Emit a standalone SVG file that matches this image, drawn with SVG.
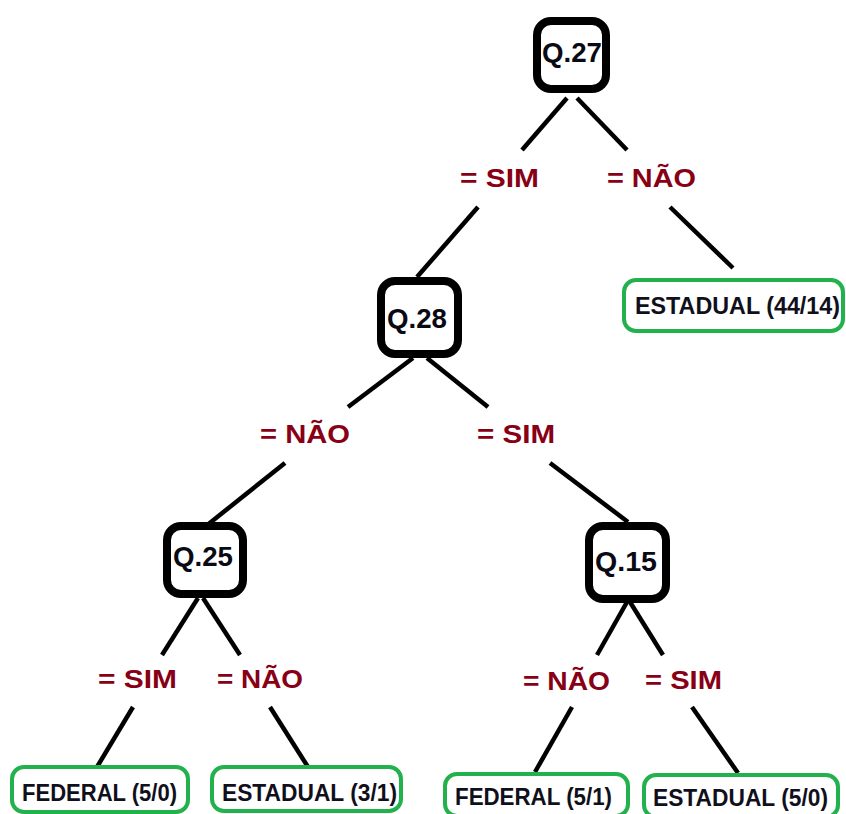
<svg xmlns="http://www.w3.org/2000/svg" width="846" height="814" viewBox="0 0 846 814">
<style>
.q rect{fill:#fff;stroke:#000;stroke-width:8}
.q text{font-family:"Liberation Sans",Arial,sans-serif;font-weight:bold;font-size:27px;fill:#0a0a14;text-anchor:middle}
.leaf rect{fill:#fff;stroke:#22b14c;stroke-width:4}
.leaf text{font-family:"Liberation Sans",Arial,sans-serif;font-weight:bold;font-size:24px;fill:#10101c}
.lbl{font-family:"Liberation Sans",Arial,sans-serif;font-weight:bold;font-size:26px;fill:#880015}
#connectors line{stroke:#000;stroke-width:4.5;stroke-linecap:butt}
</style>
<rect width="846" height="814" fill="#fff"/>
<g id="connectors">
<line x1="567" y1="98" x2="522" y2="150"/>
<line x1="577" y1="98" x2="627" y2="150"/>
<line x1="478" y1="207" x2="417" y2="277"/>
<line x1="670" y1="207" x2="733" y2="268"/>
<line x1="413" y1="358" x2="348" y2="407"/>
<line x1="427" y1="358" x2="488" y2="407"/>
<line x1="285" y1="463" x2="206" y2="526"/>
<line x1="550" y1="463" x2="628" y2="522"/>
<line x1="198" y1="598" x2="162" y2="655"/>
<line x1="203" y1="598" x2="240" y2="655"/>
<line x1="627" y1="602" x2="597" y2="655"/>
<line x1="630" y1="602" x2="663" y2="655"/>
<line x1="133" y1="707" x2="97" y2="767"/>
<line x1="270" y1="707" x2="308" y2="767"/>
<line x1="572" y1="707" x2="535" y2="772"/>
<line x1="692" y1="707" x2="738" y2="773"/>
</g>
<g id="labels">
<text class="lbl" x="460" y="187" textLength="79" lengthAdjust="spacingAndGlyphs">= SIM</text>
<text class="lbl" x="607" y="187" textLength="89" lengthAdjust="spacingAndGlyphs">= NÃO</text>
<text class="lbl" x="260" y="443" textLength="90" lengthAdjust="spacingAndGlyphs">= NÃO</text>
<text class="lbl" x="477" y="443" textLength="78" lengthAdjust="spacingAndGlyphs">= SIM</text>
<text class="lbl" x="98" y="688" textLength="79" lengthAdjust="spacingAndGlyphs">= SIM</text>
<text class="lbl" x="217" y="688" textLength="86" lengthAdjust="spacingAndGlyphs">= NÃO</text>
<text class="lbl" x="523" y="690" textLength="87" lengthAdjust="spacingAndGlyphs">= NÃO</text>
<text class="lbl" x="645" y="689" textLength="77" lengthAdjust="spacingAndGlyphs">= SIM</text>
</g>
<g id="q27" class="q"><rect x="537" y="21" width="69" height="68" rx="14"/><text x="572" y="62" textLength="60" lengthAdjust="spacingAndGlyphs">Q.27</text></g>
<g id="q28" class="q"><rect x="381" y="281" width="77" height="73" rx="14"/><text x="417" y="328" textLength="60" lengthAdjust="spacingAndGlyphs">Q.28</text></g>
<g id="q25" class="q"><rect x="167" y="526" width="76" height="68" rx="14"/><text x="203" y="566" textLength="60" lengthAdjust="spacingAndGlyphs">Q.25</text></g>
<g id="q15" class="q"><rect x="589" y="526" width="77" height="73" rx="14"/><text x="626" y="571" textLength="62" lengthAdjust="spacingAndGlyphs">Q.15</text></g>
<g id="leaf-est-44-14" class="leaf"><rect x="624" y="280" width="219" height="51" rx="12"/><text x="635" y="314" textLength="205" lengthAdjust="spacingAndGlyphs">ESTADUAL (44/14)</text></g>
<g id="leaf-fed-5-0" class="leaf"><rect x="12" y="767" width="176" height="45" rx="12"/><text x="22" y="801" textLength="155" lengthAdjust="spacingAndGlyphs">FEDERAL (5/0)</text></g>
<g id="leaf-est-3-1" class="leaf"><rect x="212" y="767" width="189" height="44" rx="12"/><text x="222" y="801" textLength="175" lengthAdjust="spacingAndGlyphs">ESTADUAL (3/1)</text></g>
<g id="leaf-fed-5-1" class="leaf"><rect x="445" y="774" width="183" height="42" rx="12"/><text x="455" y="805" textLength="157" lengthAdjust="spacingAndGlyphs">FEDERAL (5/1)</text></g>
<g id="leaf-est-5-0" class="leaf"><rect x="644" y="775" width="194" height="42" rx="12"/><text x="653" y="806" textLength="175" lengthAdjust="spacingAndGlyphs">ESTADUAL (5/0)</text></g>
</svg>
